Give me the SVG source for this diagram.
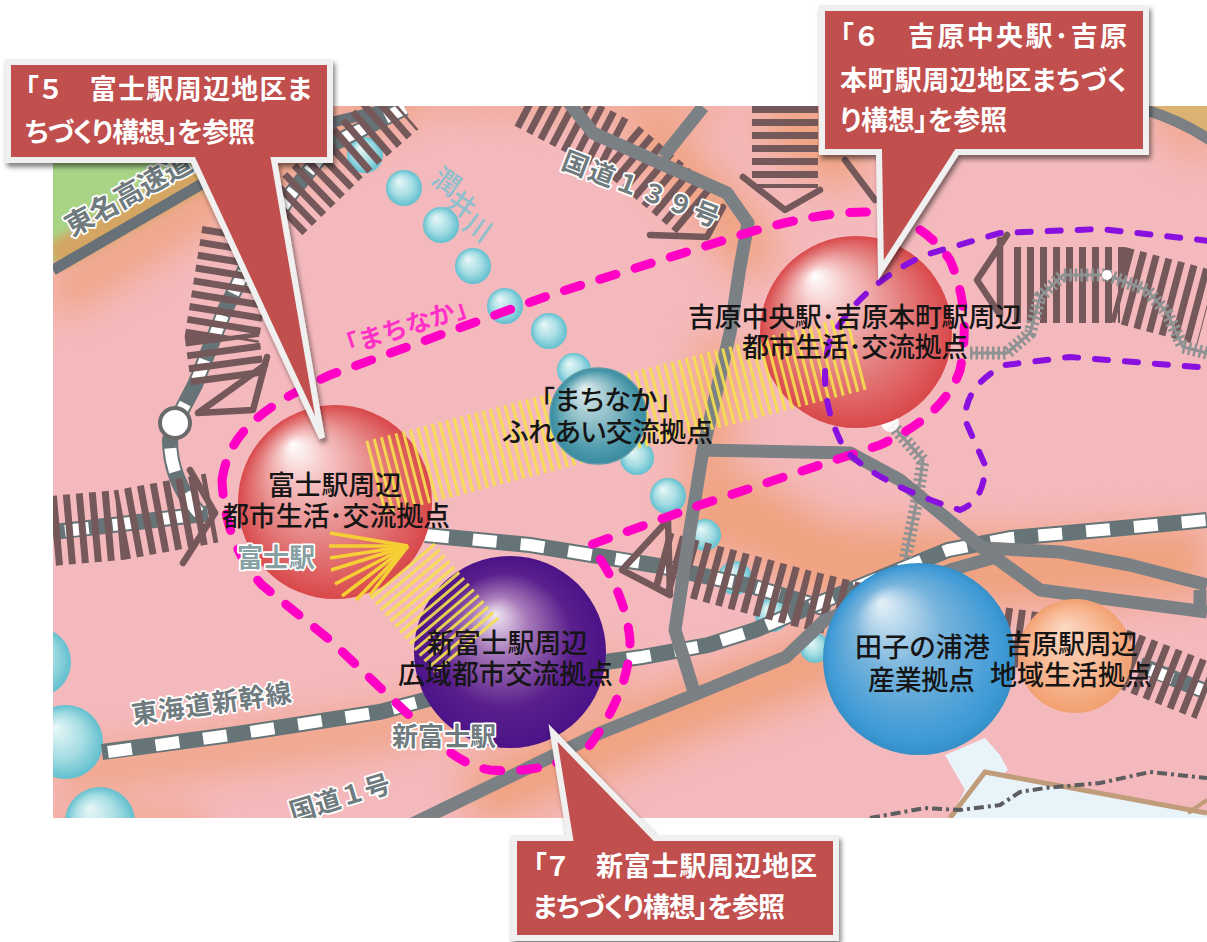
<svg xmlns="http://www.w3.org/2000/svg" width="1207" height="942" viewBox="0 0 1207 942">
<style>
.jp{font-family:"Noto Sans CJK JP","Noto Sans",sans-serif}
.lbl{font-family:"Noto Sans CJK JP","Noto Sans",sans-serif;font-size:27px;font-weight:500;fill:#151515;font-feature-settings:"palt"}
.map{font-family:"Noto Sans CJK JP","Noto Sans",sans-serif;font-size:26px;font-weight:700;fill:#6f7b7e;stroke:#fff;stroke-width:3.5px;paint-order:stroke;stroke-linejoin:round}
.cal{font-family:"Noto Sans CJK JP","Noto Sans",sans-serif;font-size:27px;font-weight:700;fill:#fff;font-feature-settings:"palt"}
.box{fill:#c0504d;stroke:#f0f0f0;stroke-width:6;stroke-linejoin:miter;filter:url(#sh)}
.road{fill:none;stroke:#7b8084;stroke-width:13;stroke-linejoin:round}
.railb{fill:none;stroke:#667477;stroke-width:16}
.railw{fill:none;stroke:#fff;stroke-width:12;stroke-dasharray:24 24}
.tie{fill:none;stroke:#75585a;stroke-dasharray:7 6}
.tri{fill:none;stroke:#75585a;stroke-width:6.5;stroke-linecap:round;stroke-linejoin:round}
.small{fill:none;stroke:#8f9293;stroke-width:13;stroke-dasharray:2.5 3}
.smallc{fill:none;stroke:#8f9293;stroke-width:3}
.yel{fill:none;stroke:#f5e04e;stroke-dasharray:3 4.5}
.fan{stroke:#f6cf35;stroke-width:3.5}
.mag{fill:none;stroke:#ff00c4;stroke-width:9;stroke-linecap:round;stroke-dasharray:17 20}
.pur{fill:none;stroke:#8a10e0;stroke-width:6;stroke-linecap:round;stroke-dasharray:13 17}
.c{fill:url(#gc)}
</style>
<defs>
<clipPath id="mapclip"><rect x="53" y="106" width="1154" height="712"/></clipPath>
<filter id="bl" x="-30%" y="-30%" width="160%" height="160%"><feGaussianBlur stdDeviation="18"/></filter>
<filter id="bl2" x="-10%" y="-10%" width="120%" height="120%"><feGaussianBlur stdDeviation="5"/></filter>
<filter id="sh" x="-10%" y="-10%" width="125%" height="125%"><feDropShadow dx="2" dy="4" stdDeviation="2.5" flood-color="#000" flood-opacity=".5"/></filter>
<radialGradient id="gr" cx=".5" cy=".5" r=".5" fx=".28" fy=".2"><stop offset="0" stop-color="#fff"/><stop offset=".25" stop-color="#f6c4c4"/><stop offset=".65" stop-color="#e47e7e"/><stop offset="1" stop-color="#d9484a"/></radialGradient>
<radialGradient id="gp" cx=".5" cy=".5" r=".5" fx=".42" fy=".3"><stop offset="0" stop-color="#f2e8f4"/><stop offset=".3" stop-color="#a678b8"/><stop offset=".7" stop-color="#5a1f8c"/><stop offset="1" stop-color="#4b1388"/></radialGradient>
<radialGradient id="gt" cx=".5" cy=".5" r=".5" fx=".35" fy=".2"><stop offset="0" stop-color="#e4eeee"/><stop offset=".5" stop-color="#8abcc6"/><stop offset=".85" stop-color="#4997aa"/><stop offset="1" stop-color="#3a8ba0"/></radialGradient>
<radialGradient id="gb" cx=".5" cy=".5" r=".5" fx=".3" fy=".2"><stop offset="0" stop-color="#e6f1f8"/><stop offset=".45" stop-color="#78b4dc"/><stop offset=".9" stop-color="#3f9ad6"/><stop offset="1" stop-color="#3590c8"/></radialGradient>
<radialGradient id="go" cx=".5" cy=".5" r=".5" fx=".4" fy=".25"><stop offset="0" stop-color="#fbd9c4"/><stop offset=".6" stop-color="#f8b994"/><stop offset="1" stop-color="#f2a071"/></radialGradient>
<radialGradient id="gc" cx=".5" cy=".5" r=".5" fx=".35" fy=".3"><stop offset="0" stop-color="#eaf8f8"/><stop offset=".6" stop-color="#a5dde3"/><stop offset="1" stop-color="#62bfcf"/></radialGradient>
</defs>
<rect width="1207" height="942" fill="#fff"/>
<g id="map" clip-path="url(#mapclip)">
<rect x="53" y="106" width="1154" height="712" fill="#f4b9bc"/>
<g id="glow" filter="url(#bl)" fill="none" stroke="#ee9a68" opacity=".72">
<path d="M53 300L220 195L420 90" stroke-width="40"/>
<path d="M430 96L720 110" stroke-width="22"/>
<path d="M640 130L730 220L760 270" stroke-width="50"/>
<path d="M770 110L860 170" stroke-width="60"/>
<path d="M60 775L380 730L620 670" stroke-width="36"/>
<path d="M470 800L700 705L850 650" stroke-width="60"/>
<path d="M720 500L820 560L1000 570L1207 560" stroke-width="75"/>
<path d="M720 340L700 560" stroke-width="40"/>
<path d="M1160 110L1207 150" stroke-width="30"/>
<path d="M53 830L200 830" stroke-width="30"/>
</g>
<path d="M53 106H320L53 262Z" fill="#a9d486"/>
<path d="M53 262L310 120" fill="none" stroke="#d4a564" stroke-width="30" filter="url(#bl2)" transform="translate(0 -4)"/>
<path d="M1130 106H1207V138Z" fill="#dcb272"/>
<path id="exp" d="M53 270L200 185L300 130L400 106" fill="none" stroke="#687078" stroke-width="11"/>
<path d="M1140 108Q1180 120 1210 140" fill="none" stroke="#7b8084" stroke-width="11"/>

<path d="M945 755L985 738L1000 755L1008 770L985 790L1000 818H950L965 790Z" fill="#e9f4fa"/>
<path d="M985 772L1207 812V818H950Z" fill="#e9f4fa"/>
<path d="M950 818L985 772L1207 813" fill="none" stroke="#c19c7a" stroke-width="5"/>
<path d="M1207 800L1188 813" fill="none" stroke="#c19c7a" stroke-width="4"/>
<path d="M870 818L925 808L960 810L1000 805L1020 792L1045 788L1100 783L1150 772L1207 778" fill="none" stroke="#5d5d60" stroke-width="4" stroke-dasharray="10 4 3 4"/>

<g id="connectors">
<g class="balls">
<circle class="c" cx="365" cy="155" r="18"/><circle class="c" cx="404" cy="188" r="18"/><circle class="c" cx="441" cy="225" r="18"/><circle class="c" cx="473" cy="266" r="18"/><circle class="c" cx="505" cy="306" r="18"/><circle class="c" cx="549" cy="331" r="18"/><circle class="c" cx="574" cy="370" r="17"/><circle class="c" cx="637" cy="458" r="17"/><circle class="c" cx="668" cy="496" r="18"/><circle class="c" cx="705" cy="535" r="16"/><circle class="c" cx="735" cy="578" r="17"/><circle class="c" cx="772" cy="615" r="17"/><circle class="c" cx="815" cy="648" r="15"/><circle class="c" cx="36" cy="662" r="35"/><circle class="c" cx="66" cy="742" r="37"/><circle class="c" cx="100" cy="822" r="35"/>
</g>
<g id="rails">
<path class="railb" d="M53 532L130 523L212 513"/><path class="railw" d="M65 531L130 523L212 513"/>
<path class="railb" d="M199 513Q170 480 170 440L175 423L195 385L225 310L250 260L290 195L330 145L405 108"/><path class="railw" d="M199 513Q170 480 170 440L175 423L195 385L225 310L250 260L290 195L330 145L405 108"/>
<path class="railb" d="M425 535L530 545L654 565L755 587L830 610"/><path class="railw" d="M425 535L530 545L654 565L755 587L830 610"/>
<path class="railb" d="M102 752L230 735L380 712L530 672L642 657L708 645L755 630L850 590L948 550L1011 538L1123 528L1207 520"/><path class="railw" d="M108 752L230 735L380 712L530 672L642 657L708 645L755 630L850 590L948 550L1011 538L1123 528L1207 520"/>
<path class="railb" d="M1140 665L1207 692"/><path class="railw" d="M1150 670L1207 692" stroke-dasharray="18 26"/>
</g>
<g id="ties">
<path class="tie" d="M40 532L120 525L212 508" stroke-width="70"/>
<path class="tie" d="M239 232L222 337L228 382" stroke-width="74"/>
<path class="tie" d="M283 215L340 160L400 108" stroke-width="56"/>
<path class="tie" d="M528 100L620 148L700 215" stroke-width="58"/>
<path class="tie" d="M785 106V188" stroke-width="66"/>
<path class="tie" d="M1014 285H1120L1207 308" stroke-width="76"/>
<path class="tie" d="M660 560L800 598L900 622L1100 650L1207 692" stroke-width="58"/>
</g>
<g id="tris">
<path class="tri" d="M267 357L253 410L198 413L265 365M650 235L707 237L723 207M743 177L785 210L820 190M845 160L875 200"/>
<path class="tri" d="M1007 235L977 280L1000 315L1000 240M215 513L190 470M215 513L183 563M668 520L622 570L670 595Z"/>
</g>
<path class="small" d="M970 353L1007 353L1030 333L1040 297L1063 275L1107 275L1147 290L1167 313L1183 347L1207 353"/>
<path class="smallc" d="M970 353L1007 353L1030 333L1040 297L1063 275L1107 275L1147 290L1167 313L1183 347L1207 353"/>
<path class="small" d="M892 425L923 460L917 500L905 560"/>
<path class="smallc" d="M892 425L923 460L917 500L905 560"/>
<path class="road" d="M567 100L593 133L653 160L727 193L748 223L740 267L730 333L703 450L690 530L675 630L695 695"/>
<path class="road" d="M700 450L850 453L900 480L985 550L1040 590L1207 612"/>
<path class="road" d="M985 548L1060 552L1130 565L1207 585M1200 590V612"/>
<path class="road" d="M400 830L600 733L689 697L786 657L825 620L950 570L1003 555"/>
<path class="road" d="M663 157L703 107" stroke-width="12"/>
<circle cx="175" cy="423" r="15" fill="#fff" stroke="#6a6a6a" stroke-width="4"/>
<circle cx="1107" cy="275" r="5" fill="#fff"/>
</g>

<g id="node-fuji"><circle cx="335" cy="502" r="97" fill="url(#gr)"/></g>
<g id="node-yoshiwara-chuo"><circle cx="890" cy="423" r="9" fill="#fff" opacity=".9"/><circle cx="856" cy="332" r="96" fill="url(#gr)"/></g>
<g id="node-shinfuji"><circle cx="510" cy="652" r="96" fill="url(#gp)"/></g>
<g id="node-tagonoura"><circle cx="1075" cy="656" r="57" fill="url(#go)"/></g>
<g id="node-port-ball"><circle cx="919" cy="659" r="96" fill="url(#gb)"/></g>

<g id="hatch">
<path class="yel" d="M375 478L860 352" stroke-width="76" opacity=".9"/>
<path class="yel" d="M402 570L470 650" stroke-width="84" opacity=".9"/>
<g class="fan">
<line x1="408" y1="546" x2="330" y2="533"/><line x1="408" y1="546" x2="329" y2="546"/><line x1="408" y1="546" x2="330" y2="558"/><line x1="408" y1="546" x2="331" y2="570"/><line x1="408" y1="546" x2="335" y2="584"/><line x1="408" y1="546" x2="342" y2="596"/><line x1="408" y1="546" x2="356" y2="600"/><line x1="408" y1="546" x2="370" y2="595"/>
</g>
</g>
<g id="node-machinaka-ball"><circle cx="598" cy="416" r="48" fill="url(#gt)" stroke="#5d9aa8" stroke-width="1.5"/></g>
<path class="mag" d="M222 480C228 440 250 412 330 375L550 295L750 232Q820 212 865 212Q920 216 950 260Q972 310 960 370Q945 415 880 445L700 505L590 545Q625 590 630 640Q630 690 590 745Q550 775 490 770Q460 765 430 735L330 640L262 585Q225 545 222 480Z"/>
<path class="pur" d="M1210 241L1100 229L1000 233L925 255Q860 285 830 340Q815 395 845 450Q880 485 960 510Q985 500 985 465L965 420Q965 385 1005 365L1070 357L1210 368"/>

<g id="map-labels">
<text class="map" transform="translate(72 237) rotate(-29)" style="font-size:28px">東名高速道</text>
<text class="map" transform="translate(560 168) rotate(21)" style="letter-spacing:2px">国道１３９号</text>
<text class="map" transform="translate(133 724) rotate(-8)" style="letter-spacing:1px">東海道新幹線</text>
<text class="map" x="392" y="746">新富士駅</text>
<text class="map" x="237" y="567" style="fill:#86a0a3">富士駅</text>
<text class="map" transform="translate(293 822) rotate(-17)">国道１号</text>
<g style="font-family:'Noto Sans CJK JP',sans-serif;font-size:27px;font-weight:500;fill:#8fbfcc">
<text transform="translate(430 182) rotate(35)">潤</text><text transform="translate(445 205) rotate(35)">井</text><text transform="translate(461 228) rotate(35)">川</text>
</g>
<text class="jp" transform="translate(338 358) rotate(-18)" style="font-size:25px;font-weight:700;fill:#ff2fc8">「まちなか」</text>
</g>
<g id="ball-labels">
<text class="lbl" x="688" y="327" textLength="334">吉原中央駅･吉原本町駅周辺</text>
<text class="lbl" x="742" y="357" textLength="226">都市生活･交流拠点</text>
<text class="lbl" x="541" y="410" textLength="130">「まちなか」</text>
<text class="lbl" x="503" y="442" textLength="210">ふれあい交流拠点</text>
<text class="lbl" x="268" y="495" textLength="134">富士駅周辺</text>
<text class="lbl" x="222" y="526" textLength="228">都市生活･交流拠点</text>
<text class="lbl" x="427" y="653" textLength="161">新富士駅周辺</text>
<text class="lbl" x="398" y="684" textLength="215">広域都市交流拠点</text>
<text class="lbl" x="855" y="657" textLength="135">田子の浦港</text>
<text class="lbl" x="868" y="690" textLength="107">産業拠点</text>
<text class="lbl" x="1005" y="654" textLength="133">吉原駅周辺</text>
<text class="lbl" x="990" y="685" textLength="162">地域生活拠点</text>
</g>
</g>

<g id="callout-5"><path class="box" d="M8 62H330V160H274L322 438L193 160H8Z"/>
<text class="cal" x="25" y="99" textLength="287">「５　富士駅周辺地区ま</text><text class="cal" x="25" y="142" textLength="230">ちづくり構想」を参照</text></g>
<g id="callout-6"><path class="box" d="M822 8H1146V152H957L881 270L879 152H822Z"/>
<text class="cal" x="840" y="46" textLength="287">「６　吉原中央駅･吉原</text><text class="cal" x="840" y="90" textLength="287">本町駅周辺地区まちづく</text><text class="cal" x="840" y="130" textLength="167">り構想」を参照</text></g>
<g id="callout-7"><path class="box" d="M514 838H570L553 733L655 838H836V938H514Z"/>
<text class="cal" x="533" y="876" textLength="284">「７　新富士駅周辺地区</text><text class="cal" x="533" y="917" textLength="252">まちづくり構想」を参照</text></g>
</svg>
